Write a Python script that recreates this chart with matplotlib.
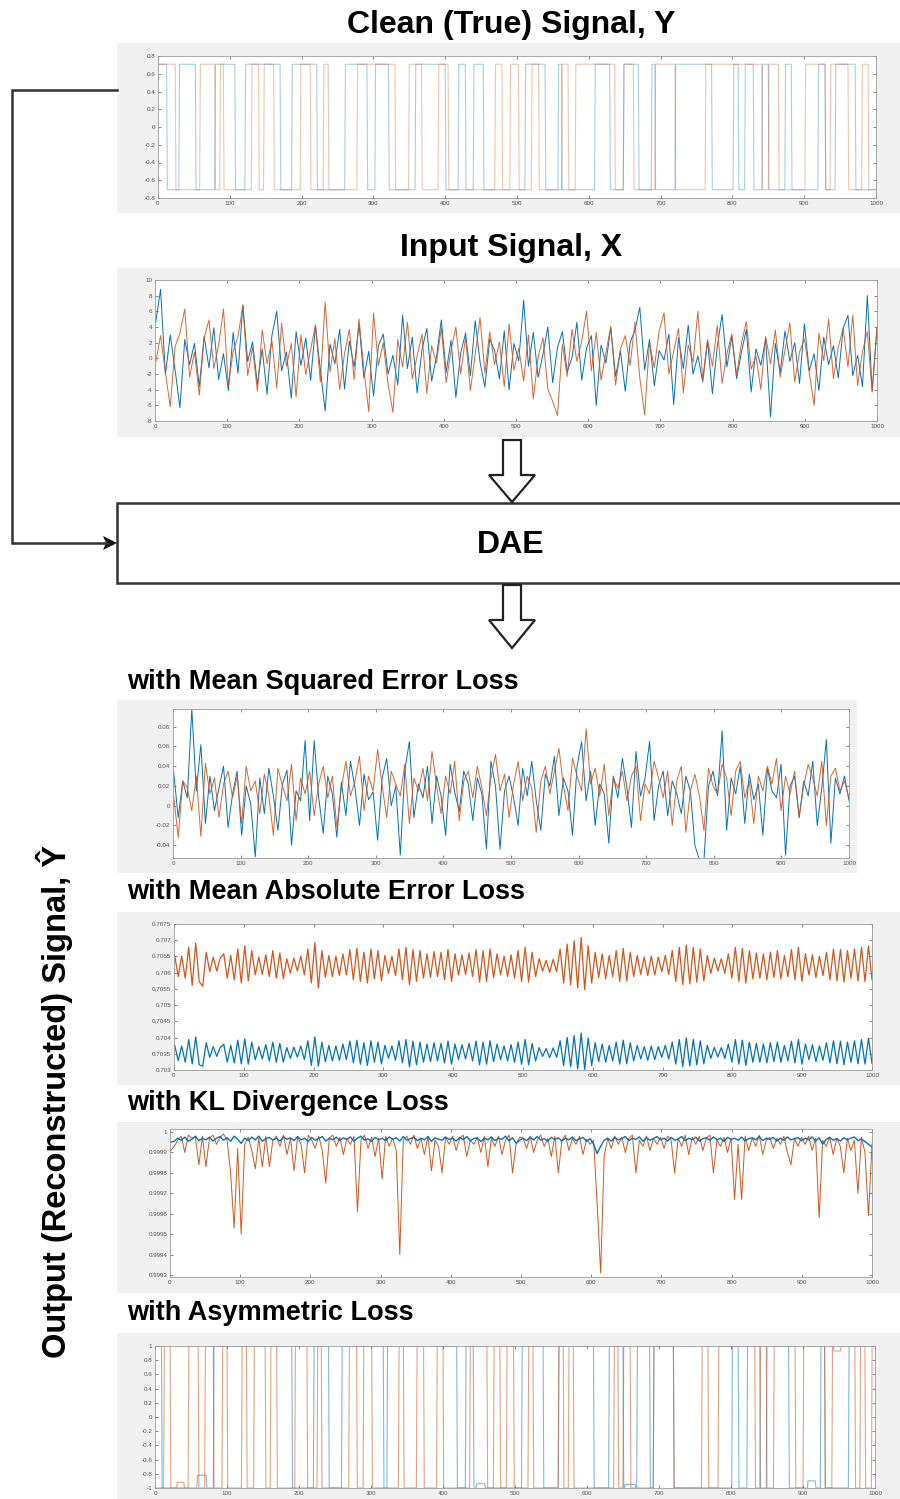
import numpy as np
import matplotlib
matplotlib.use('Agg')
import matplotlib.pyplot as plt
from matplotlib.patches import Rectangle, Polygon
from matplotlib.ticker import FixedLocator, FuncFormatter

plt.rcParams['font.family'] = ['Liberation Sans', 'DejaVu Sans']

# colours (MATLAB defaults)
c_blue = '#0072BD'
c_orange = '#D95319'
c_panel = '#F0F0F0'

n_samples = 1000

# ---- clean signal: sample indices where each channel flips (+/-0.7071), both start high
clean_level = 0.7071
clean_blue_flips = [12, 29, 52, 79, 107, 121, 170, 186, 221, 260, 291, 302, 321, 358, 400, 418,
                    428, 439, 453, 511, 539, 557, 562, 608, 629, 648, 669, 687, 692, 720, 771, 801,
                    808, 817, 829, 841, 850, 873, 882, 919, 929, 943, 971]
clean_orange_flips = [24, 58, 79, 86, 91, 130, 140, 147, 161, 198, 212, 230, 237, 277, 330, 349,
                      367, 390, 404, 469, 479, 490, 502, 520, 530, 562, 571, 581, 636, 648, 662, 692,
                      720, 762, 841, 850, 864, 901, 929, 936, 961, 980, 989]

# ---- input signal X (sampled every ~6.7 points)
input_blue = [4.6, 8.8, -2.1, 3.0, -1.5, -6.3, 2.4, -0.8, 1.9, -3.6,
              2.8, -1.2, 3.9, -2.7, 0.6, -4.1, 3.3, -1.9, 6.8, -0.4,
              2.1, -3.3, 1.2, -4.6, 2.9, 6.0, -1.6, 0.8, -5.1, 3.4,
              -0.9, 2.6, -2.8, 4.1, -1.4, -6.7, 1.8, -0.7, 3.7, -3.9,
              2.2, -1.1, 4.4, -2.5, 0.9, -4.8, 1.6, 3.1, -2.0, 0.4,
              -3.4, 5.5, -1.3, 2.7, -4.4, 1.1, 3.8, -2.9, 0.2, 4.9,
              -1.8, 2.3, -5.0, 0.7, 3.2, -2.2, 4.8, -0.5, -3.7, 2.5,
              1.0, -2.6, 3.5, -4.0, 1.9, -0.3, 7.4, -1.0, 3.3, -2.4,
              0.5, 4.0, -3.1, 1.4, 3.4, -1.7, 0.1, 4.6, -2.8, 1.3,
              2.9, -6.0, 1.7, -0.6, 3.9, -2.3, 0.9, -4.2, 2.0, 3.6,
              6.5, -1.5, 2.4, -3.5, 1.0, -0.2, 3.1, -5.9, 2.6, -1.3,
              4.2, -2.0, 0.3, -3.0, 2.2, -4.5, 1.5, 5.6, -1.1, 2.8,
              -2.6, 0.8, 3.7, -4.3, 1.2, -0.9, 2.5, -7.5, 1.9, -1.8,
              3.5, -0.4, 2.0, -3.2, 4.4, -1.6, 0.6, -4.1, 2.7, -0.8,
              1.6, -2.5, 3.8, 5.5, -2.2, 0.4, -3.6, 8.0, -4.2, 3.9]
input_orange = [-0.5, 2.9, -1.8, -6.2, 1.5, 3.2, 6.3, -2.4, 0.8, -4.7,
                2.6, 4.9, -1.3, 1.7, 6.3, -3.5, 0.9, 2.8, 6.8, -2.2,
                1.4, -4.2, 3.6, -0.7, 2.3, -3.8, 4.5, -1.0, 1.9, -4.9,
                3.0, -2.1, 1.1, 4.3, -3.0, 7.2, -1.7, 2.5, -4.0, 0.6,
                3.7, -2.7, 5.0, -1.4, -6.8, 5.8, -0.9, 2.0, -3.3, -6.9,
                2.4, -1.1, 4.6, -2.6, 0.3, 3.1, -4.5, 1.6, -0.6, 3.9,
                -3.1, 1.0, 4.0, -2.0, 2.7, -4.1, 0.5, 5.2, -1.9, 3.4,
                -0.8, 2.1, -3.6, 4.4, -1.5, 1.3, -2.9, 3.0, -5.2, 0.2,
                2.6, -3.9, -5.5, -7.3, 1.8, -2.3, 3.7, -0.4, 2.2, 6.0,
                -1.6, 3.3, -2.8, 0.7, 4.1, -3.4, 1.2, 2.9, -0.9, 4.6,
                -2.5, -7.2, 2.0, -1.2, 3.5, 5.8, -2.0, 0.9, 3.8, -4.4,
                1.7, -0.5, 6.0, -2.7, 2.4, -1.0, 4.2, -3.2, 0.6, 3.1,
                -2.1, 1.9, 4.7, -1.4, 0.3, -4.0, 2.8, -0.7, 3.6, -2.4,
                1.1, 4.5, -3.0, 0.8, 2.5, -1.8, -6.0, 3.2, -0.3, 5.0,
                -2.6, 1.4, 3.9, -1.1, 5.5, -3.5, 0.9, 3.4, -4.3, 4.0]

# ---- DAE output, MSE loss (values in units of 1e-3)
mse_blue = [34, -12, 25, 8, 98, 15, 62, -18, 30, -5,
            18, 40, -22, 12, 35, -30, 20, 2, -52, 28,
            -8, 38, 10, -25, 22, 36, -40, 15, 5, 66,
            -15, 66, 8, -28, 30, 12, -32, 24, -10, 45,
            18, -20, 32, 6, 14, -35, 28, 48, 0, 20,
            -50, 36, 65, -12, 22, 8, 40, -18, 30, 10,
            -30, 42, 14, -6, 35, 22, -15, 28, 12, -44,
            45, 20, -44, 15, 30, 8, -20, 38, 10, 45,
            5, -25, 32, 20, 50, -10, 28, 15, -30, 40,
            65, 5, 35, -20, 22, 12, -38, 30, 8, 48,
            18, -22, 55, 10, 28, 65, -15, 20, 35, -10,
            25, 12, -8, 30, 15, -40, -55, -55, 20, 35,
            10, 76, -25, 28, 12, 40, -18, 32, 6, 22,
            -30, 38, 15, 8, 42, -50, 20, 30, -12, 25,
            10, 45, -20, 18, 67, -38, 28, 12, 30, 5]
mse_orange = [10, -32, 25, 18, -5, 30, -31, 43, 12, 28,
              -12, 22, 35, 8, 30, -18, 40, 15, 25, -8,
              32, 10, -30, 38, 20, 5, 42, -15, 28, 12,
              35, -10, 22, 40, 8, 30, -22, 18, 45, 10,
              25, 50, -5, 30, 15, 57, 20, -12, 35, 22,
              10, 42, -18, 28, 15, 38, 5, 55, 20, -8,
              30, 12, 45, -15, 25, 35, 8, 40, 18, -10,
              28, 52, 15, 32, -12, 22, 45, 5, 30, 18,
              -27, 25, 40, 12, 35, 58, 20, -5, 48, 30,
              15, 78, 22, 38, 10, 42, -10, 28, 18, 35,
              5, 30, 40, -15, 22, 12, 45, 28, 8, 35,
              -20, 25, 40, -27, 15, 32, 10, -25, 38, 20,
              12, 42, 28, -10, 35, 45, 8, 25, -18, 30,
              15, 40, 22, 48, -5, 30, 12, 35, -12, 20,
              42, 28, 10, 45, -20, 30, 38, 15, 25, 8]

# ---- DAE output, MAE loss: offsets (1e-5) around the two band centres
mae_orange_centre = 0.70623
mae_blue_centre = 0.70354
mae_orange_dev = [30, -35, 28, -40, 55, -62, 68, -50, -65, 40,
                  -20, 25, -18, 22, 35, -40, 30, -45, 50, -55,
                  60, -48, 45, -30, 25, -28, 32, -35, 45, -40,
                  38, -42, 20, -25, 22, -18, 28, -30, 50, -55,
                  70, -70, 45, -38, 30, -35, 28, -32, 35, -30,
                  48, -45, 52, -50, 40, -55, 50, -42, 45, -48,
                  30, -25, 28, -32, 50, -45, 55, -60, 48, -50,
                  45, -40, 35, -38, 42, -35, 40, -45, 48, -50,
                  35, -30, 32, -28, 38, -35, 48, -52, 45, -50,
                  50, -38, 35, -30, 28, -35, 32, -40, 45, -50,
                  55, -52, 40, -35, 20, -18, 15, -22, 18, -20,
                  50, -55, 65, -60, 75, -70, 86, -75, 60, -55,
                  40, -38, 35, -42, 30, -35, 45, -50, 52, -48,
                  40, -35, 30, -28, 25, -32, 28, -30, 25, -20,
                  30, -28, 45, -50, 55, -60, 62, -58, 55, -52,
                  50, -48, 30, -25, 22, -18, 20, -25, 35, -40,
                  55, -50, 52, -55, 45, -42, 38, -40, 35, -45,
                  40, -38, 45, -42, 30, -35, 48, -45, 55, -50,
                  35, -30, 32, -38, 28, -32, 40, -45, 50, -48,
                  48, -52, 45, -40, 50, -48, 55, -50, 60, -45]
mae_blue_dev = [22, -25, 20, -30, 40, -35, 48, -38, -42, 30,
                -15, 18, -12, 16, 25, -30, 22, -32, 38, -35,
                42, -36, 32, -22, 18, -20, 24, -26, 32, -30,
                28, -30, 15, -18, 16, -14, 20, -22, 36, -40,
                48, -42, 32, -28, 22, -26, 20, -24, 26, -22,
                35, -32, 38, -36, 30, -40, 36, -30, 32, -35,
                22, -18, 20, -24, 36, -32, 40, -44, 35, -38,
                32, -30, 26, -28, 30, -26, 28, -32, 35, -36,
                26, -22, 24, -20, 28, -26, 35, -38, 32, -36,
                36, -28, 26, -22, 20, -26, 24, -30, 32, -36,
                40, -38, 28, -26, 15, -12, 12, -16, 14, -15,
                36, -40, 46, -44, 52, -50, 60, -52, 44, -40,
                30, -28, 26, -30, 22, -26, 32, -36, 38, -35,
                30, -26, 22, -20, 18, -24, 20, -22, 18, -15,
                22, -20, 32, -36, 40, -44, 45, -42, 40, -38,
                36, -35, 22, -18, 16, -14, 15, -18, 26, -30,
                40, -36, 38, -40, 32, -30, 28, -30, 26, -32,
                30, -28, 32, -30, 22, -26, 35, -32, 40, -36,
                26, -22, 24, -28, 20, -24, 30, -32, 36, -35,
                35, -38, 32, -30, 36, -35, 40, -36, 44, -34]

# ---- DAE output, KL loss: offsets from 1 (units of 1e-6)
kl_blue_dev = [-50, -45, -30, -40, -25, -45, -35, -20, -42, -30,
               -38, -25, -44, -30, -22, -40, -28, -45, -20, -35,
               -55, -30, -42, -25, -38, -20, -45, -32, -26, -40,
               -30, -44, -24, -36, -28, -42, -22, -38, -30, -46,
               -26, -40, -32, -22, -44, -30, -38, -25, -42, -28,
               -36, -24, -45, -30, -20, -40, -33, -46, -26, -38,
               -30, -42, -24, -36, -28, -44, -22, -40, -32, -26,
               -42, -30, -38, -22, -45, -28, -35, -40, -24, -36,
               -30, -44, -26, -38, -22, -42, -32, -28, -46, -30,
               -38, -24, -42, -30, -36, -20, -44, -28, -55, -40,
               -30, -42, -25, -38, -22, -40, -32, -45, -26, -36,
               -28, -44, -30, -38, -24, -42, -34, -26, -46, -32,
               -60, -105, -70, -40, -30, -44, -26, -38, -32, -22,
               -42, -30, -36, -24, -45, -28, -40, -32, -22, -38,
               -30, -44, -26, -40, -34, -22, -42, -30, -38, -25,
               -44, -32, -28, -40, -24, -38, -30, -46, -26, -36,
               -30, -40, -24, -44, -32, -28, -38, -22, -42, -30,
               -36, -26, -44, -30, -40, -24, -38, -32, -28, -42,
               -30, -38, -24, -44, -28, -60, -36, -26, -40, -32,
               -44, -28, -38, -30, -24, -42, -34, -46, -60, -72]
kl_orange_dev = [-90, -70, -40, -20, -100, -15, -30, -25, -160, -20,
                 -170, -30, -15, -60, -25, -10, -40, -200, -470, -80,
                 -500, -60, -25, -90, -180, -30, -170, -20, -170, -40,
                 -20, -70, -15, -110, -30, -190, -25, -60, -200, -15,
                 -40, -80, -20, -90, -250, -30, -15, -70, -25, -110,
                 -30, -60, -20, -390, -40, -15, -80, -25, -120, -30,
                 -230, -20, -70, -30, -90, -600, -40, -20, -60, -15,
                 -80, -30, -110, -20, -190, -40, -70, -200, -25, -60,
                 -20, -90, -30, -15, -120, -40, -60, -25, -100, -20,
                 -170, -30, -70, -20, -110, -40, -15, -200, -60, -25,
                 -30, -80, -20, -100, -40, -15, -70, -30, -120, -20,
                 -200, -40, -15, -90, -30, -60, -20, -110, -35, -60,
                 -40, -350, -690, -120, -30, -80, -20, -60, -25, -100,
                 -30, -15, -200, -40, -70, -20, -90, -30, -60, -25,
                 -80, -20, -40, -200, -30, -70, -15, -110, -25, -60,
                 -20, -90, -30, -15, -200, -40, -70, -25, -100, -30,
                 -330, -60, -330, -20, -90, -30, -70, -15, -110, -40,
                 -25, -80, -30, -60, -20, -100, -160, -30, -70, -25,
                 -60, -20, -90, -30, -420, -40, -70, -25, -110, -30,
                 -70, -200, -30, -90, -40, -300, -25, -100, -410, -60]

# ---- DAE output, asymmetric loss (+/-1); blue starts high, orange starts low
asym_blue_flips = [9, 81, 190, 220, 241, 259, 317, 322, 419, 431, 442, 509, 539, 560, 609, 630,
                   650, 669, 687, 692, 720, 801, 810, 822, 840, 849, 880, 924, 930, 963]
asym_orange_flips = [12, 21, 46, 60, 69, 81, 93, 100, 120, 127, 137, 153, 160, 169, 194, 211,
                     225, 231, 269, 280, 289, 301, 338, 345, 363, 373, 391, 400, 437, 461, 470,
                     479, 488, 498, 518, 525, 560, 567, 574, 581, 637, 643, 650, 660, 692, 720,
                     759, 768, 782, 833, 840, 849, 859, 889, 900, 930, 940, 972, 979, 986, 995]
# short plateaus (start, end, value) that are not at +/-1
asym_blue_plateaus = [(58, 71, -0.82), (446, 458, -0.94), (652, 667, -0.95), (906, 917, -0.9)]
asym_orange_plateaus = [(30, 40, -0.92), (942, 952, 0.93)]

subtitles = ['with Mean Squared Error Loss', 'with Mean Absolute Error Loss',
             'with KL Divergence Loss', 'with Asymmetric Loss']


def square(flips, start_high, level, plateaus=()):
    y = np.empty(n_samples)
    state = 1 if start_high else -1
    prev = 0
    for f in list(flips) + [n_samples]:
        y[prev:f] = state * level
        state = -state
        prev = f
    for a, b, v in plateaus:
        y[a:b] = v
    return y


W, H = 900, 1499
fig = plt.figure(figsize=(W / 100, H / 100), dpi=100)

# full-figure overlay in pixel coordinates for the diagram parts
bg = fig.add_axes([0, 0, 1, 1])
bg.set_xlim(0, W)
bg.set_ylim(H, 0)
bg.axis('off')


def px_axes(x0, x1, y0, y1):
    return fig.add_axes([x0 / W, 1 - y1 / H, (x1 - x0) / W, (y1 - y0) / H])


def style(ax, xlim, ylim, yticks):
    ax.set_xlim(*xlim)
    ax.set_ylim(*ylim)
    ax.xaxis.set_major_locator(FixedLocator(np.arange(0, 1001, 100)))
    ax.yaxis.set_major_locator(FixedLocator(np.round(yticks, 6)))
    ax.yaxis.set_major_formatter(FuncFormatter(lambda v, p: '%g' % (round(v, 6) + 0.0)))
    ax.tick_params(direction='in', length=2.5, width=0.5, labelsize=4.5, colors='#555555',
                   top=True, right=True, pad=2)
    for s in ax.spines.values():
        s.set_color('#9a9a9a')
        s.set_linewidth(0.6)


# grey panel backgrounds
panels = [(117, 900, 43, 213), (117, 900, 268, 437), (117, 857, 700, 873),
          (117, 900, 912, 1085), (117, 900, 1122, 1293), (117, 900, 1333, 1499)]
for x0, x1, y0, y1 in panels:
    bg.add_patch(Rectangle((x0, y0), x1 - x0, y1 - y0, facecolor=c_panel, edgecolor='none'))

# titles
bg.text(511, 25, 'Clean (True) Signal, Y', ha='center', va='center', fontsize=23, fontweight='bold')
bg.text(511, 248, 'Input Signal, X', ha='center', va='center', fontsize=23, fontweight='bold')
for txt, yy in zip(subtitles, [682, 892, 1103, 1313]):
    bg.text(127, yy, txt, ha='left', va='center', fontsize=19.5, fontweight='bold')

# DAE block
bg.add_patch(Rectangle((117, 503), 800, 80, facecolor='white', edgecolor='#333333', linewidth=1.8))
bg.text(511, 545, 'DAE', ha='center', va='center', fontsize=23, fontweight='bold')


# hollow down arrows
def hollow_arrow(xc, ytop, ybot, head_y):
    pts = [(xc - 9, ytop), (xc + 9, ytop), (xc + 9, head_y), (xc + 23, head_y),
           (xc, ybot), (xc - 23, head_y), (xc - 9, head_y)]
    bg.add_patch(Polygon(pts, closed=True, facecolor='white', edgecolor='#222222', linewidth=1.6))


hollow_arrow(512, 440, 502, 475)
hollow_arrow(512, 585, 648, 620)

# feedback line from clean signal to DAE
bg.plot([117, 12, 12, 108], [90, 90, 543, 543], color='#333333', linewidth=1.8,
        solid_joinstyle='miter')
bg.add_patch(Polygon([(103, 536), (117, 543), (103, 550), (106, 543)], closed=True,
                     facecolor='#111111', edgecolor='none'))

# side label
bg.text(55, 1102, 'Output (Reconstructed) Signal, \u0176', rotation=90, ha='center', va='center',
        fontsize=23.5, fontweight='bold')

t = np.arange(1, n_samples + 1)

# panel 1: clean signal
ax1 = px_axes(158, 876, 56, 198)
ax1.plot(t, square(clean_blue_flips, True, clean_level), color=c_blue, lw=0.8, alpha=0.35)
ax1.plot(t, square(clean_orange_flips, True, clean_level), color=c_orange, lw=0.8, alpha=0.35)
style(ax1, (0, 1000), (-0.8, 0.8), np.arange(-0.8, 0.81, 0.2))

# panel 2: input signal
ax2 = px_axes(155, 877, 280, 421)
ax2.plot(np.linspace(1, 1000, len(input_blue)), input_blue, color=c_blue, lw=0.7)
ax2.plot(np.linspace(1, 1000, len(input_orange)), input_orange, color=c_orange, lw=0.7, alpha=0.9)
style(ax2, (0, 1000), (-8, 10), np.arange(-8, 10.1, 2))

# panel 3: MSE
ax3 = px_axes(173, 849, 709, 858)
ax3.plot(np.linspace(1, 1000, len(mse_blue)), np.array(mse_blue) / 1000, color=c_blue, lw=0.7)
ax3.plot(np.linspace(1, 1000, len(mse_orange)), np.array(mse_orange) / 1000, color=c_orange,
         lw=0.7, alpha=0.9)
style(ax3, (0, 1000), (-0.053, 0.098), np.arange(-0.04, 0.081, 0.02))

# panel 4: MAE
ax4 = px_axes(174, 872, 924, 1070)
ax4.plot(np.linspace(1, 1000, len(mae_orange_dev)), mae_orange_centre + np.array(mae_orange_dev) * 1e-5,
         color=c_orange, lw=0.9)
ax4.plot(np.linspace(1, 1000, len(mae_blue_dev)), mae_blue_centre + np.array(mae_blue_dev) * 1e-5,
         color=c_blue, lw=0.9)
style(ax4, (0, 1000), (0.703, 0.7075), np.arange(0.703, 0.70751, 0.0005))

# panel 5: KL
ax5 = px_axes(170, 872, 1129, 1277)
ax5.plot(np.linspace(1, 1000, len(kl_orange_dev)), 1 + np.array(kl_orange_dev) * 1e-6,
         color=c_orange, lw=0.7)
ax5.plot(np.linspace(1, 1000, len(kl_blue_dev)), 1 + np.array(kl_blue_dev) * 1e-6,
         color=c_blue, lw=1.0)
style(ax5, (0, 1000), (0.99929, 1.000015), np.arange(0.9993, 1.00001, 0.0001))

# panel 6: asymmetric loss
ax6 = px_axes(155, 875, 1346, 1488)
ax6.plot(t, square(asym_blue_flips, True, 1.0, asym_blue_plateaus), color=c_blue, lw=0.8, alpha=0.5)
ax6.plot(t, square(asym_orange_flips, False, 1.0, asym_orange_plateaus), color=c_orange, lw=0.8,
         alpha=0.55)
style(ax6, (0, 1000), (-1, 1), np.arange(-1, 1.01, 0.2))

# the MSE panel is cropped on the right in the original figure
fig.add_artist(Rectangle((857 / W, 1 - 875 / H), 43 / W, 176 / H, transform=fig.transFigure,
                         facecolor='white', edgecolor='none', zorder=10))

fig.savefig('out.png', dpi=100)
